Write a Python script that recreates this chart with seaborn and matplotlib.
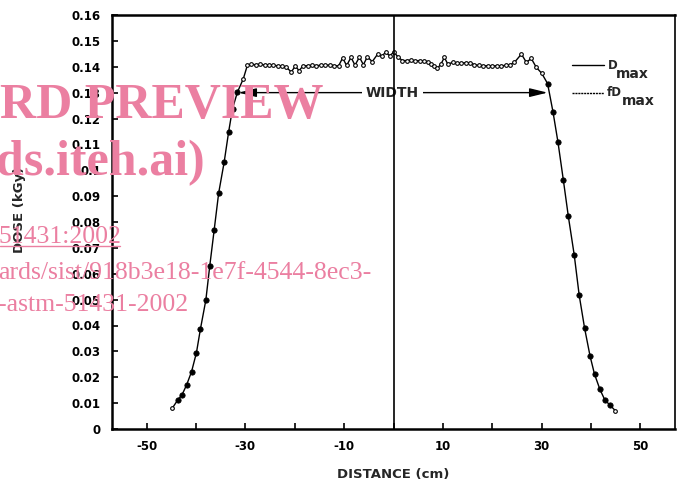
import numpy as np
import matplotlib
matplotlib.use("Agg")
import matplotlib.pyplot as plt
import seaborn as sns
from matplotlib.lines import Line2D

# dose profile (distance in cm, dose in kGy)
left_edge_x = [-44.8, -43.7, -42.8, -41.9, -40.9, -39.9, -39.1, -38.0, -37.2,
               -36.3, -35.4, -34.3, -33.4, -32.6, -31.6, -30.4]
left_edge_dose = [0.0080, 0.0112, 0.0133, 0.0170, 0.0221, 0.0295, 0.0386, 0.0498,
                  0.0631, 0.0771, 0.0912, 0.1030, 0.1146, 0.1238, 0.1302, 0.1354]

plateau_x = [-29.6, -28.8, -27.9, -27.0, -26.1, -25.2, -24.3, -23.4, -22.5, -21.7,
             -20.7, -19.9, -19.1, -18.3, -17.4, -16.5, -15.6, -14.7, -13.8, -12.9,
             -12.0, -11.1, -10.3, -9.5, -8.6, -7.8, -6.9, -6.1, -5.3, -4.3,
             -3.2, -2.4, -1.6, -0.8, 0.1, 1.0, 1.8, 2.7, 3.6, 4.4,
             5.3, 6.1, 6.9, 7.6, 8.3, 8.9, 9.6, 10.3, 11.0, 12.0,
             12.9, 13.7, 14.6, 15.5, 16.4, 17.3, 18.2, 19.1, 20.0, 20.9,
             21.8, 22.7, 23.6, 24.5, 25.9, 26.9, 27.9, 28.9, 30.0]
plateau_dose = [0.1405, 0.1409, 0.1408, 0.1409, 0.1407, 0.1408, 0.1405, 0.1404, 0.1401, 0.1398,
                0.1380, 0.1402, 0.1385, 0.1404, 0.1404, 0.1405, 0.1404, 0.1406, 0.1405, 0.1407,
                0.1404, 0.1404, 0.1434, 0.1405, 0.1436, 0.1406, 0.1437, 0.1408, 0.1438, 0.1420,
                0.1449, 0.1440, 0.1456, 0.1443, 0.1456, 0.1436, 0.1424, 0.1424, 0.1425, 0.1423,
                0.1424, 0.1422, 0.1420, 0.1410, 0.1402, 0.1394, 0.1410, 0.1436, 0.1410, 0.1417,
                0.1413, 0.1413, 0.1416, 0.1415, 0.1408, 0.1405, 0.1404, 0.1404, 0.1403, 0.1404,
                0.1404, 0.1405, 0.1408, 0.1417, 0.1449, 0.1417, 0.1432, 0.1398, 0.1375]

right_edge_x = [31.2, 32.3, 33.3, 34.4, 35.4, 36.6, 37.6, 38.7, 39.8, 40.7,
                41.8, 42.8, 43.8, 44.9]
right_edge_dose = [0.1335, 0.1225, 0.1109, 0.0961, 0.0822, 0.0672, 0.0517, 0.0389, 0.0282, 0.0212,
                   0.0153, 0.0112, 0.0093, 0.0071]

d_max = 0.1405
fd_max = 0.130
width_edges = [-31.4, 31.2]

x_ticks = [-50, -40, -30, -20, -10, 0, 10, 20, 30, 40, 50]
x_tick_labels = ['-50', '', '-30', '', '-10', '', '10', '', '30', '', '50']
y_ticks = [0, 0.01, 0.02, 0.03, 0.04, 0.05, 0.06, 0.07, 0.08, 0.09,
           0.10, 0.11, 0.12, 0.13, 0.14, 0.15, 0.16]
y_tick_labels = ['0', '0.01', '0.02', '0.03', '0.04', '0.05', '0.06', '0.07', '0.08', '0.09',
                 '0.1', '0.11', '0.12', '0.13', '0.14', '0.15', '0.16']

watermark = ['RD PREVIEW', 'ds.iteh.ai)', '51431:2002',
             'ards/sist/918b3e18-1e7f-4544-8ec3-', '-astm-51431-2002']

sns.set_style('ticks')
plt.rcParams['font.family'] = ['DejaVu Sans']
plt.rcParams['font.weight'] = 'bold'

dist = np.array(left_edge_x + plateau_x + right_edge_x)
dose = np.array(left_edge_dose + plateau_dose + right_edge_dose)
filled = (dose > 0.0085) & (dose < 0.1350)

fig = plt.figure(figsize=(6.81, 4.82), dpi=100)
ax = fig.add_axes([112 / 681, 53 / 482, 563 / 681, 414 / 482])

sns.lineplot(x=dist, y=dose, sort=False, estimator=None, color='black', lw=1.0, ax=ax, zorder=3)
sns.scatterplot(x=dist[~filled], y=dose[~filled], marker='o', s=7, facecolor='white',
                edgecolor='black', linewidth=0.8, ax=ax, zorder=4)
sns.scatterplot(x=dist[filled], y=dose[filled], marker='o', s=15, color='black',
                edgecolor='black', linewidth=0.5, ax=ax, zorder=4)

ax.axvline(0, color='black', lw=1.2, zorder=5)

# WIDTH arrows at f*Dmax
arrow = dict(arrowstyle='-|>,head_length=0.9,head_width=0.22', color='black', lw=1.0,
             mutation_scale=12, shrinkA=0, shrinkB=0)
ax.annotate('', xy=(width_edges[0], fd_max), xytext=(0, fd_max), arrowprops=arrow, zorder=3)
ax.annotate('', xy=(width_edges[1], fd_max), xytext=(0, fd_max), arrowprops=arrow, zorder=3)
ax.text(-0.2, fd_max, 'WIDTH', ha='center', va='center', fontsize=10, fontweight='bold',
        bbox=dict(facecolor='white', edgecolor='none', pad=3), zorder=4)

# key on the right
ax.plot([36.2, 42.6], [d_max, d_max], color='black', lw=1.0, clip_on=False)
ax.plot([36.2, 42.6], [fd_max, fd_max], color='black', lw=1.0, ls=(0, (1.5, 0.6)), clip_on=False)
ax.text(43.4, 0.1390, 'D', fontsize=8.5, fontweight='bold', va='baseline')
ax.text(45.0, 0.1355, 'max', fontsize=10, fontweight='bold', va='baseline')
ax.text(43.2, 0.1287, 'fD', fontsize=8.5, fontweight='bold', va='baseline')
ax.text(46.2, 0.1252, 'max', fontsize=10, fontweight='bold', va='baseline')

ax.set_xlim(-57, 57)
ax.set_ylim(0, 0.16)
ax.set_xticks(x_ticks)
ax.set_xticklabels(x_tick_labels)
ax.set_yticks(y_ticks)
ax.set_yticklabels(y_tick_labels)
ax.tick_params(direction='in', length=4, width=1.2, labelsize=8.5, colors='black')
ax.tick_params(axis='y', pad=8)
ax.tick_params(axis='x', pad=8)
for lab in ax.get_xticklabels() + ax.get_yticklabels():
    lab.set_fontweight('bold')

for side in ['left', 'bottom', 'top']:
    ax.spines[side].set_linewidth(1.8)
ax.spines['right'].set_linewidth(1.2)
for sp in ax.spines.values():
    sp.set_color('black')

ax.set_xlabel('DISTANCE (cm)', fontsize=9.5, fontweight='bold')
ax.set_ylabel('DOSE (kGy)', fontsize=9.5, fontweight='bold')
ax.xaxis.set_label_coords(0.5, -0.095)
ax.yaxis.set_label_coords(-0.152, 0.53)

# pink preview watermark lying over the chart
pink = '#eb7fa1'
W, H = 681, 482
fig.text(0 / W, 1 - 118 / H, watermark[0], family='Liberation Serif', fontweight='bold',
         fontsize=36, color=pink, va='baseline', zorder=10)
fig.text(-4 / W, 1 - 175 / H, watermark[1], family='Liberation Serif', fontweight='bold',
         fontsize=36, color=pink, va='baseline', zorder=10)
fig.text(-2 / W, 1 - 243 / H, watermark[2], family='Liberation Serif', fontweight='normal',
         fontsize=18.5, color=pink, va='baseline', zorder=10)
fig.add_artist(Line2D([0, 120 / W], [1 - 246 / H, 1 - 246 / H], color=pink, lw=1, zorder=10))
fig.text(-2 / W, 1 - 279 / H, watermark[3], family='Liberation Serif', fontweight='normal',
         fontsize=18.5, color=pink, va='baseline', zorder=10)
fig.text(-2 / W, 1 - 311 / H, watermark[4], family='Liberation Serif', fontweight='normal',
         fontsize=18.5, color=pink, va='baseline', zorder=10)

fig.savefig('out.png', dpi=100)
